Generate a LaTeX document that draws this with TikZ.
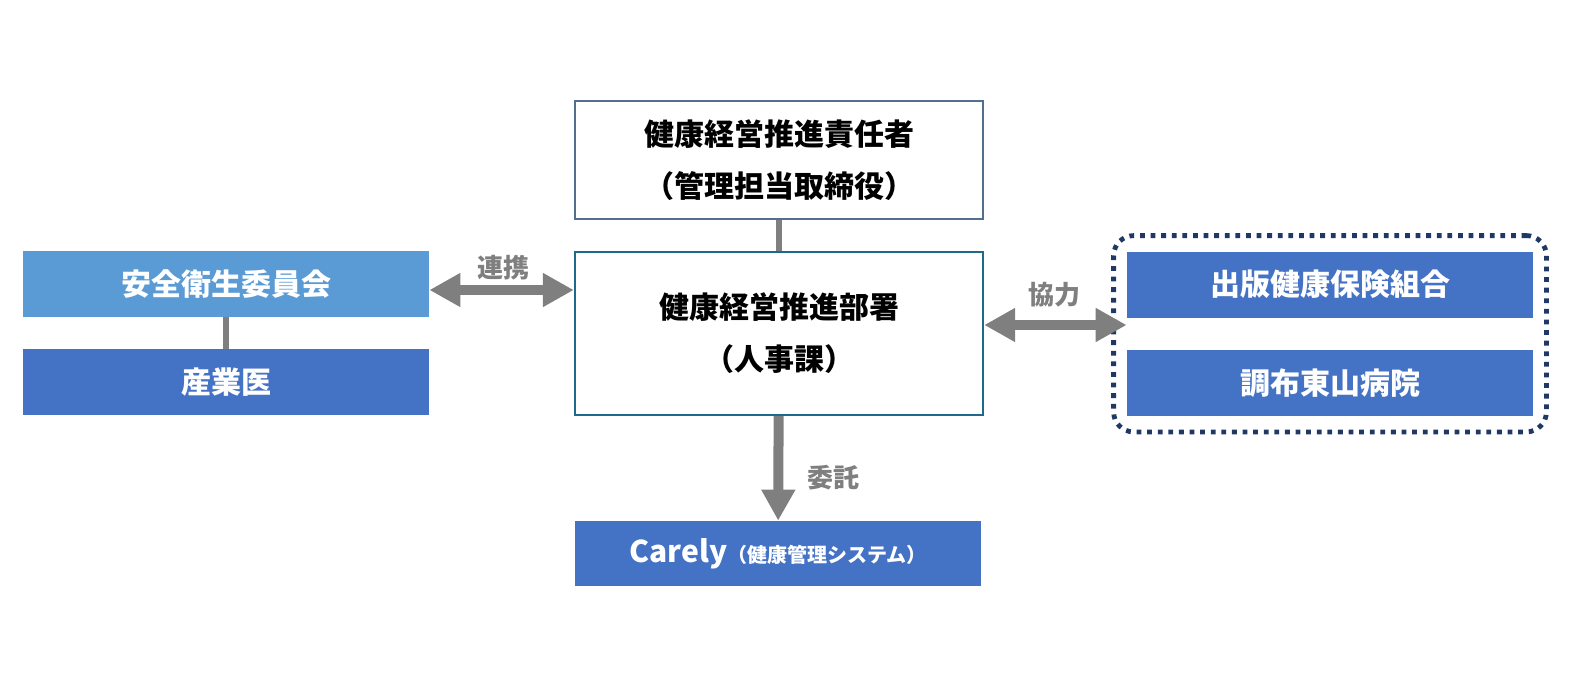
\documentclass[tikz,border=0pt]{standalone}
\usepackage{fontspec}
\setmainfont{Noto Sans CJK JP}
\usetikzlibrary{arrows.meta, fit}

\definecolor{boxblue}{HTML}{4472C4}
\definecolor{lightblue}{HTML}{5B9BD5}
\definecolor{headedge}{HTML}{546E8E}
\definecolor{deptedge}{HTML}{1F6A8A}
\definecolor{navy}{HTML}{203864}
\definecolor{linkgray}{HTML}{7F7F7F}

\begin{document}
\begin{tikzpicture}[x=0.5pt, y=-0.5pt, >={Triangle[length=15.5pt, width=16pt]},
  every node/.style={font=\bfseries\fontsize{15}{26}\selectfont, inner sep=0pt},
  whitebox/.style={draw, line width=1.2pt, fill=white, align=center, minimum width=204pt},
  bluebox/.style={fill=boxblue, text=white, minimum width=203pt, minimum height=33pt},
  link/.style={draw=linkgray, line width=5pt},
  tie/.style={draw=linkgray, line width=3pt},
  linklabel/.style={text=linkgray, font=\bfseries\fontsize{13}{15}\selectfont}]
  \useasboundingbox (0,0) rectangle (1583,690);

  % center column
  \node[whitebox, draw=headedge, minimum height=59pt] (head) at (779,160) {健康経営推進責任者\\（管理担当取締役）};
  \node[whitebox, draw=deptedge, minimum height=81.5pt] (dept) at (779,333.5) {健康経営推進部署\\（人事課）};
  \node[bluebox, minimum height=32.5pt] (carely) at (778,553.5) {Carely{\fontsize{10}{11}\selectfont （健康管理システム）}};

  % left side
  \node[bluebox, fill=lightblue] (eisei) at (226,284) {安全衛生委員会};
  \node[bluebox] (sangyoui) at (226,382) {産業医};

  % right side
  \node[bluebox] (kenpo) at (1330,284.5) {出版健康保険組合};
  \node[bluebox] (byoin) at (1330,383) {調布東山病院};
  \node[draw=navy, line width=2.4pt, dash pattern=on 2.4pt off 2.9pt, rounded corners=10pt,
        inner xsep=6.5pt, inner ysep=7.75pt, fit=(kenpo)(byoin)] (partners) {};

  \draw[tie] (head) -- (dept);
  \draw[tie] (eisei) -- (sangyoui);

  \coordinate (renkeiend) at ([yshift=-3pt]eisei.east);
  \draw[link, <->] (renkeiend) -- (renkeiend -| dept.west);
  \node[linklabel] (renkei) at (503,268) {連携};

  \coordinate (kyoryokuend) at ([yshift=4.25pt]dept.east);
  \draw[link, <->] (kyoryokuend) -- (kyoryokuend -| kenpo.west);
  \node[linklabel] (kyoryoku) at (1054,295) {協力};

  \draw[link, ->] (dept) -- (carely);
  \node[linklabel] (itaku) at (833,478) {委託};
\end{tikzpicture}
\end{document}
